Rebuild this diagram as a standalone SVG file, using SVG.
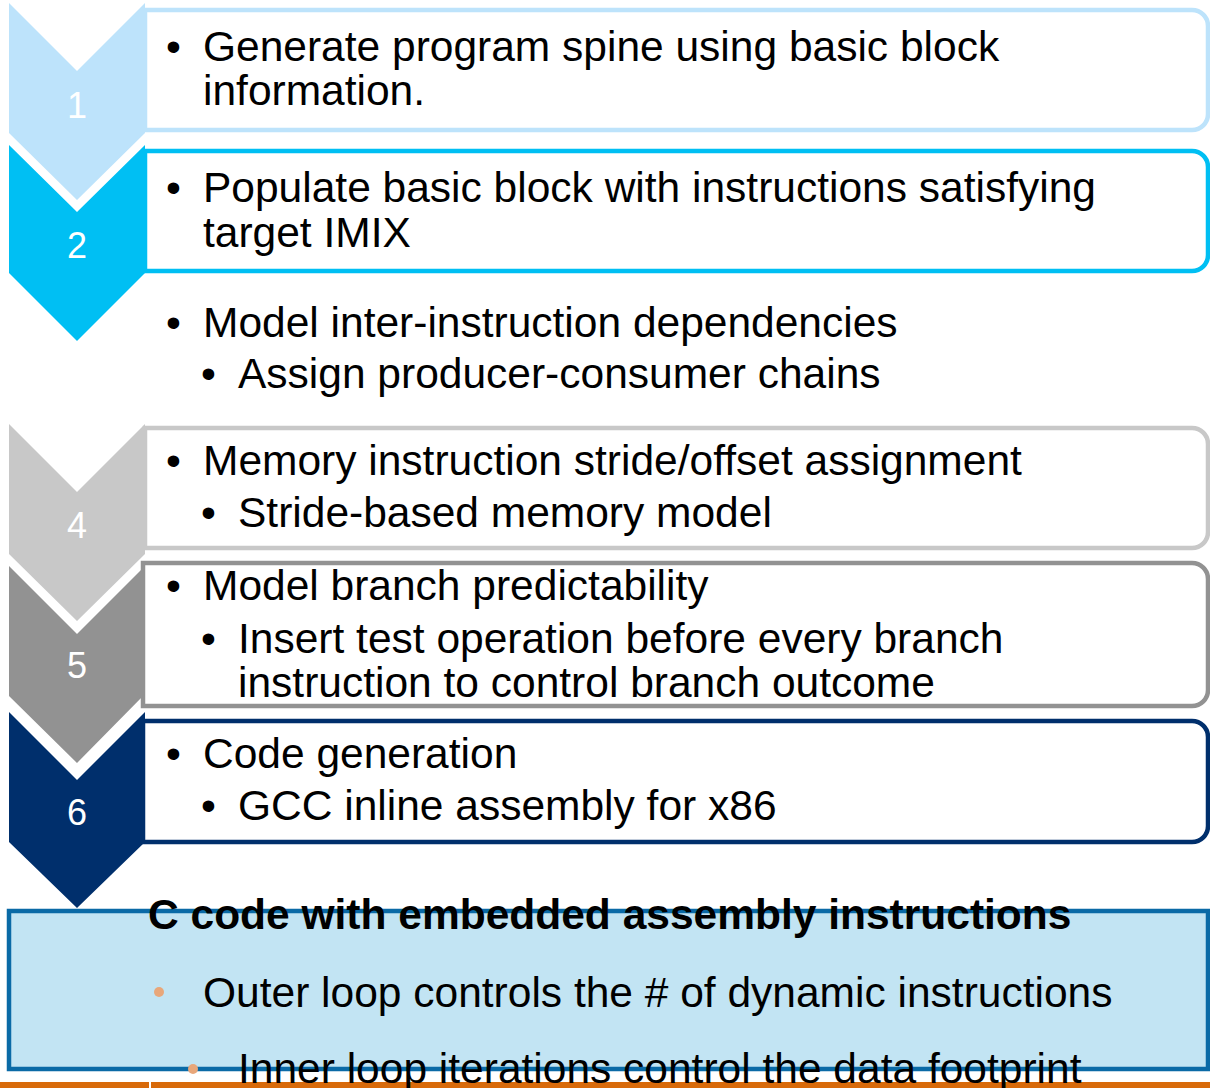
<svg xmlns="http://www.w3.org/2000/svg" width="1210" height="1088" viewBox="0 0 1210 1088">
<style>
.t{font-family:"Liberation Sans",Arial,sans-serif;font-size:42.5px;fill:#000}
.b{font-weight:bold}
.num{font-family:"Liberation Sans",Arial,sans-serif;font-size:36px;fill:#fff;text-anchor:middle}
.box{fill:#fff;stroke-width:4.5}
</style>
<rect width="1210" height="1088" fill="#fff"/>
<g id="step1">
<path class="box" stroke="#BDE3FB" d="M145,10 H1192 A16,16 0 0 1 1208,26 V114 A16,16 0 0 1 1192,130 H145 Z"/>
<polygon fill="#BDE3FB" points="9,3 77,71 145,3 145,133 77,200 9,133"/>
<text class="num" x="77" y="118">1</text>
<text class="t" x="166" y="61">•</text>
<text class="t" x="203" y="61">Generate program spine using basic block</text>
<text class="t" x="203" y="105">information.</text>
</g>
<g id="step2">
<path class="box" stroke="#00BFF3" d="M145,151 H1192 A16,16 0 0 1 1208,167 V255 A16,16 0 0 1 1192,271 H145 Z"/>
<polygon fill="#00BFF3" points="9,145 77,212 145,145 145,273 77,341 9,273"/>
<text class="num" x="77" y="258">2</text>
<text class="t" x="166" y="202">•</text>
<text class="t" x="203" y="202">Populate basic block with instructions satisfying</text>
<text class="t" x="203" y="247">target IMIX</text>
</g>
<g id="step3">
<text class="t" x="166" y="337">•</text>
<text class="t" x="203" y="337">Model inter-instruction dependencies</text>
<text class="t" x="201" y="388">•</text>
<text class="t" x="238" y="388">Assign producer-consumer chains</text>
</g>
<g id="step4">
<path class="box" stroke="#C8C8C8" d="M145,428 H1192 A16,16 0 0 1 1208,444 V532 A16,16 0 0 1 1192,548 H145 Z"/>
<polygon fill="#C8C8C8" points="9,424 77,492 145,424 145,554 77,621 9,554"/>
<text class="num" x="77" y="538">4</text>
<text class="t" x="166" y="475">•</text>
<text class="t" x="203" y="475">Memory instruction stride/offset assignment</text>
<text class="t" x="201" y="527">•</text>
<text class="t" x="238" y="527">Stride-based memory model</text>
</g>
<g id="step5">
<path class="box" stroke="#929292" d="M143,563 H1192 A16,16 0 0 1 1208,579 V690 A16,16 0 0 1 1192,706 H143 Z"/>
<polygon fill="#929292" points="9,566 77,634 143,568 143,696 77,763 9,696"/>
<text class="num" x="77" y="678">5</text>
<text class="t" x="166" y="600">•</text>
<text class="t" x="203" y="600">Model branch predictability</text>
<text class="t" x="201" y="653">•</text>
<text class="t" x="238" y="653">Insert test operation before every branch</text>
<text class="t" x="238" y="697">instruction to control branch outcome</text>
</g>
<g id="step6">
<path class="box" stroke="#002F6C" d="M143,721 H1192 A16,16 0 0 1 1208,737 V826 A16,16 0 0 1 1192,842 H143 Z"/>
<polygon fill="#002F6C" points="9,712 77,780 145,712 145,842 77,908 9,842"/>
<text class="num" x="77" y="825">6</text>
<text class="t" x="166" y="768">•</text>
<text class="t" x="203" y="768">Code generation</text>
<text class="t" x="201" y="820">•</text>
<text class="t" x="238" y="820">GCC inline assembly for x86</text>
</g>
<g id="output">
<rect x="9" y="911" width="1199" height="158" fill="#C2E4F3" stroke="#0A6AA6" stroke-width="4.5"/>
<rect x="0" y="1082" width="1210" height="6" fill="#D86A0A"/>
<rect x="149" y="1082" width="2" height="6" fill="#fff"/>
<text class="t b" x="148" y="929">C code with embedded assembly instructions</text>
<circle cx="159" cy="992" r="5" fill="#E8A77A"/>
<text class="t" x="203" y="1007">Outer loop controls the # of dynamic instructions</text>
<circle cx="193" cy="1069" r="5" fill="#E8A77A"/>
<text class="t" x="238" y="1083">Inner loop iterations control the data footprint</text>
</g>
<g id="connectors"></g>
</svg>
